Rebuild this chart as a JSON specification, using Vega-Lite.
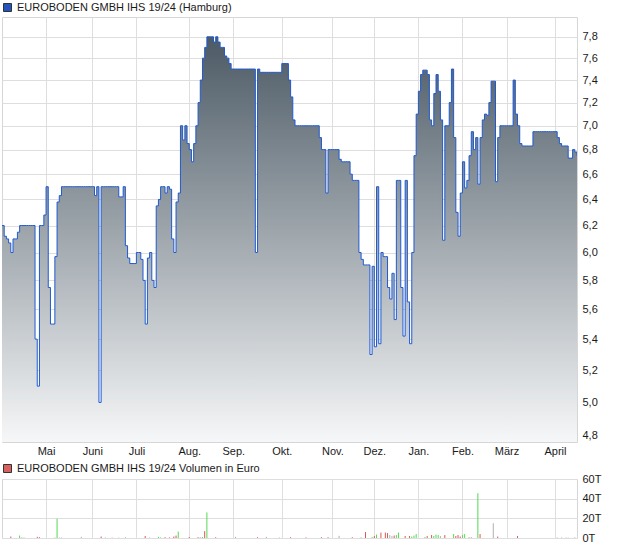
{
  "$schema": "https://vega.github.io/schema/vega-lite/v6.json",
  "background": "white",
  "padding": {"left": 1, "top": 1, "right": 0, "bottom": 0},
  "spacing": 5,
  "datasets": {
    "kurs": [
      {"t":0,"kurs":6.2},{"t":1,"kurs":6.12},{"t":2,"kurs":6.1},{"t":3,"kurs":6.07},{"t":4,"kurs":6.0},{"t":5,"kurs":6.1},{"t":6,"kurs":6.1},{"t":7,"kurs":6.15},{"t":8,"kurs":6.2},{"t":9,"kurs":6.2},
      {"t":10,"kurs":6.2},{"t":11,"kurs":6.2},{"t":12,"kurs":6.2},{"t":13,"kurs":6.2},{"t":14,"kurs":6.2},{"t":15,"kurs":5.4},{"t":16,"kurs":5.1},{"t":17,"kurs":6.2},{"t":18,"kurs":6.2},{"t":19,"kurs":6.28},
      {"t":20,"kurs":6.5},{"t":21,"kurs":5.75},{"t":22,"kurs":5.5},{"t":23,"kurs":5.5},{"t":24,"kurs":5.97},{"t":25,"kurs":6.38},{"t":26,"kurs":6.43},{"t":27,"kurs":6.5},{"t":28,"kurs":6.5},{"t":29,"kurs":6.5},
      {"t":30,"kurs":6.5},{"t":31,"kurs":6.5},{"t":32,"kurs":6.5},{"t":33,"kurs":6.5},{"t":34,"kurs":6.5},{"t":35,"kurs":6.5},{"t":36,"kurs":6.5},{"t":37,"kurs":6.5},{"t":38,"kurs":6.5},{"t":39,"kurs":6.5},
      {"t":40,"kurs":6.5},{"t":41,"kurs":6.5},{"t":42,"kurs":6.43},{"t":43,"kurs":6.5},{"t":44,"kurs":5.0},{"t":45,"kurs":6.5},{"t":46,"kurs":6.5},{"t":47,"kurs":6.5},{"t":48,"kurs":6.5},{"t":49,"kurs":6.5},
      {"t":50,"kurs":6.5},{"t":51,"kurs":6.5},{"t":52,"kurs":6.5},{"t":53,"kurs":6.42},{"t":54,"kurs":6.42},{"t":55,"kurs":6.5},{"t":56,"kurs":6.05},{"t":57,"kurs":5.96},{"t":58,"kurs":5.92},{"t":59,"kurs":5.92},
      {"t":60,"kurs":5.92},{"t":61,"kurs":6.0},{"t":62,"kurs":6.0},{"t":63,"kurs":5.95},{"t":64,"kurs":5.8},{"t":65,"kurs":5.5},{"t":66,"kurs":5.96},{"t":67,"kurs":6.0},{"t":68,"kurs":5.8},{"t":69,"kurs":5.75},
      {"t":70,"kurs":6.35},{"t":71,"kurs":6.4},{"t":72,"kurs":6.5},{"t":73,"kurs":6.5},{"t":74,"kurs":6.45},{"t":75,"kurs":6.5},{"t":76,"kurs":6.48},{"t":77,"kurs":6.1},{"t":78,"kurs":6.0},{"t":79,"kurs":6.38},
      {"t":80,"kurs":6.45},{"t":81,"kurs":7.0},{"t":82,"kurs":6.88},{"t":83,"kurs":7.0},{"t":84,"kurs":6.85},{"t":85,"kurs":6.8},{"t":86,"kurs":6.7},{"t":87,"kurs":6.85},{"t":88,"kurs":7.0},{"t":89,"kurs":7.2},
      {"t":90,"kurs":7.4},{"t":91,"kurs":7.6},{"t":92,"kurs":7.7},{"t":93,"kurs":7.8},{"t":94,"kurs":7.8},{"t":95,"kurs":7.8},{"t":96,"kurs":7.75},{"t":97,"kurs":7.8},{"t":98,"kurs":7.75},{"t":99,"kurs":7.7},
      {"t":100,"kurs":7.7},{"t":101,"kurs":7.62},{"t":102,"kurs":7.6},{"t":103,"kurs":7.55},{"t":104,"kurs":7.5},{"t":105,"kurs":7.5},{"t":106,"kurs":7.5},{"t":107,"kurs":7.5},{"t":108,"kurs":7.5},{"t":109,"kurs":7.5},
      {"t":110,"kurs":7.5},{"t":111,"kurs":7.5},{"t":112,"kurs":7.5},{"t":113,"kurs":7.5},{"t":114,"kurs":7.5},{"t":115,"kurs":6.0},{"t":116,"kurs":7.5},{"t":117,"kurs":7.47},{"t":118,"kurs":7.47},{"t":119,"kurs":7.47},
      {"t":120,"kurs":7.47},{"t":121,"kurs":7.47},{"t":122,"kurs":7.47},{"t":123,"kurs":7.47},{"t":124,"kurs":7.47},{"t":125,"kurs":7.47},{"t":126,"kurs":7.47},{"t":127,"kurs":7.55},{"t":128,"kurs":7.55},{"t":129,"kurs":7.55},
      {"t":130,"kurs":7.4},{"t":131,"kurs":7.25},{"t":132,"kurs":7.05},{"t":133,"kurs":7.0},{"t":134,"kurs":7.0},{"t":135,"kurs":7.0},{"t":136,"kurs":7.0},{"t":137,"kurs":7.0},{"t":138,"kurs":7.0},{"t":139,"kurs":7.0},
      {"t":140,"kurs":7.0},{"t":141,"kurs":7.0},{"t":142,"kurs":7.0},{"t":143,"kurs":7.0},{"t":144,"kurs":6.9},{"t":145,"kurs":6.8},{"t":146,"kurs":6.8},{"t":147,"kurs":6.45},{"t":148,"kurs":6.8},{"t":149,"kurs":6.8},
      {"t":150,"kurs":6.8},{"t":151,"kurs":6.8},{"t":152,"kurs":6.8},{"t":153,"kurs":6.72},{"t":154,"kurs":6.7},{"t":155,"kurs":6.7},{"t":156,"kurs":6.7},{"t":157,"kurs":6.7},{"t":158,"kurs":6.6},{"t":159,"kurs":6.55},
      {"t":160,"kurs":6.55},{"t":161,"kurs":6.55},{"t":162,"kurs":6.0},{"t":163,"kurs":5.95},{"t":164,"kurs":5.91},{"t":165,"kurs":5.91},{"t":166,"kurs":5.91},{"t":167,"kurs":5.3},{"t":168,"kurs":5.9},{"t":169,"kurs":5.35},
      {"t":170,"kurs":6.5},{"t":171,"kurs":5.37},{"t":172,"kurs":6.0},{"t":173,"kurs":5.97},{"t":174,"kurs":5.97},{"t":175,"kurs":5.75},{"t":176,"kurs":5.67},{"t":177,"kurs":5.85},{"t":178,"kurs":5.53},{"t":179,"kurs":6.55},
      {"t":180,"kurs":6.55},{"t":181,"kurs":5.75},{"t":182,"kurs":5.42},{"t":183,"kurs":6.55},{"t":184,"kurs":5.65},{"t":185,"kurs":5.37},{"t":186,"kurs":6.0},{"t":187,"kurs":6.75},{"t":188,"kurs":7.1},{"t":189,"kurs":7.3},
      {"t":190,"kurs":7.45},{"t":191,"kurs":7.49},{"t":192,"kurs":7.49},{"t":193,"kurs":7.45},{"t":194,"kurs":7.05},{"t":195,"kurs":7.0},{"t":196,"kurs":7.28},{"t":197,"kurs":7.45},{"t":198,"kurs":7.3},{"t":199,"kurs":7.05},
      {"t":200,"kurs":6.09},{"t":201,"kurs":7.0},{"t":202,"kurs":7.0},{"t":203,"kurs":7.2},{"t":204,"kurs":7.5},{"t":205,"kurs":6.9},{"t":206,"kurs":6.3},{"t":207,"kurs":6.12},{"t":208,"kurs":6.45},{"t":209,"kurs":6.7},
      {"t":210,"kurs":6.49},{"t":211,"kurs":6.55},{"t":212,"kurs":6.75},{"t":213,"kurs":6.95},{"t":214,"kurs":6.8},{"t":215,"kurs":6.9},{"t":216,"kurs":6.52},{"t":217,"kurs":6.9},{"t":218,"kurs":7.05},{"t":219,"kurs":7.1},
      {"t":220,"kurs":7.09},{"t":221,"kurs":7.2},{"t":222,"kurs":7.39},{"t":223,"kurs":7.39},{"t":224,"kurs":6.54},{"t":225,"kurs":6.9},{"t":226,"kurs":7.0},{"t":227,"kurs":7.0},{"t":228,"kurs":7.0},{"t":229,"kurs":7.0},
      {"t":230,"kurs":7.0},{"t":231,"kurs":7.0},{"t":232,"kurs":7.4},{"t":233,"kurs":7.1},{"t":234,"kurs":7.0},{"t":235,"kurs":6.85},{"t":236,"kurs":6.83},{"t":237,"kurs":6.83},{"t":238,"kurs":6.83},{"t":239,"kurs":6.83},
      {"t":240,"kurs":6.83},{"t":241,"kurs":6.95},{"t":242,"kurs":6.95},{"t":243,"kurs":6.95},{"t":244,"kurs":6.95},{"t":245,"kurs":6.95},{"t":246,"kurs":6.95},{"t":247,"kurs":6.95},{"t":248,"kurs":6.95},{"t":249,"kurs":6.95},
      {"t":250,"kurs":6.95},{"t":251,"kurs":6.95},{"t":252,"kurs":6.9},{"t":253,"kurs":6.85},{"t":254,"kurs":6.83},{"t":255,"kurs":6.83},{"t":256,"kurs":6.83},{"t":257,"kurs":6.73},{"t":258,"kurs":6.73},{"t":259,"kurs":6.8},
      {"t":260,"kurs":6.78},{"t":261,"kurs":6.75}
    ],
    "volumen": [
      {"t":4,"vol":1500,"r":"down"},{"t":8,"vol":2500,"r":"up"},{"t":9,"vol":800,"r":"flat"},{"t":10,"vol":600,"r":"flat"},{"t":16,"vol":1200,"r":"down"},{"t":17,"vol":800,"r":"down"},
      {"t":24,"vol":500,"r":"flat"},{"t":25,"vol":19500,"r":"up"},{"t":26,"vol":500,"r":"flat"},{"t":27,"vol":500,"r":"flat"},{"t":36,"vol":1200,"r":"flat"},{"t":45,"vol":1500,"r":"down"},
      {"t":47,"vol":500,"r":"flat"},{"t":50,"vol":500,"r":"flat"},{"t":53,"vol":400,"r":"flat"},{"t":56,"vol":700,"r":"up"},{"t":65,"vol":2000,"r":"down"},{"t":67,"vol":500,"r":"flat"},
      {"t":71,"vol":1200,"r":"up"},{"t":72,"vol":600,"r":"up"},{"t":74,"vol":800,"r":"down"},{"t":76,"vol":600,"r":"down"},{"t":78,"vol":1500,"r":"down"},{"t":79,"vol":2500,"r":"down"},
      {"t":80,"vol":6500,"r":"up"},{"t":85,"vol":1000,"r":"down"},{"t":89,"vol":800,"r":"down"},{"t":90,"vol":800,"r":"flat"},{"t":91,"vol":1000,"r":"up"},{"t":92,"vol":7000,"r":"down"},
      {"t":93,"vol":26000,"r":"up"},{"t":97,"vol":800,"r":"down"},{"t":106,"vol":1200,"r":"flat"},{"t":116,"vol":800,"r":"down"},{"t":120,"vol":1200,"r":"flat"},{"t":126,"vol":500,"r":"flat"},
      {"t":131,"vol":800,"r":"down"},{"t":138,"vol":600,"r":"down"},{"t":145,"vol":800,"r":"down"},{"t":148,"vol":800,"r":"down"},{"t":153,"vol":2200,"r":"flat"},{"t":159,"vol":800,"r":"down"},
      {"t":163,"vol":800,"r":"flat"},{"t":165,"vol":6000,"r":"down"},{"t":168,"vol":1000,"r":"up"},{"t":169,"vol":2000,"r":"down"},{"t":170,"vol":3500,"r":"up"},{"t":172,"vol":5500,"r":"down"},
      {"t":174,"vol":5500,"r":"down"},{"t":175,"vol":5000,"r":"down"},{"t":176,"vol":3000,"r":"flat"},{"t":177,"vol":2000,"r":"flat"},{"t":178,"vol":2500,"r":"down"},{"t":179,"vol":3000,"r":"up"},
      {"t":180,"vol":5500,"r":"up"},{"t":183,"vol":2000,"r":"down"},{"t":185,"vol":2000,"r":"down"},{"t":186,"vol":1500,"r":"up"},{"t":187,"vol":2500,"r":"up"},{"t":188,"vol":4000,"r":"up"},
      {"t":192,"vol":1000,"r":"up"},{"t":193,"vol":2000,"r":"down"},{"t":195,"vol":3000,"r":"down"},{"t":196,"vol":2000,"r":"up"},{"t":197,"vol":3500,"r":"up"},{"t":198,"vol":3000,"r":"up"},
      {"t":199,"vol":2000,"r":"flat"},{"t":201,"vol":3000,"r":"down"},{"t":205,"vol":4000,"r":"up"},{"t":206,"vol":2000,"r":"down"},{"t":207,"vol":3000,"r":"down"},{"t":208,"vol":1500,"r":"down"},
      {"t":209,"vol":3000,"r":"up"},{"t":210,"vol":4000,"r":"up"},{"t":212,"vol":1000,"r":"flat"},{"t":213,"vol":1000,"r":"flat"},{"t":216,"vol":45600,"r":"up"},{"t":217,"vol":4000,"r":"down"},
      {"t":223,"vol":15000,"r":"flat"},{"t":225,"vol":1500,"r":"down"},{"t":234,"vol":2000,"r":"down"},{"t":252,"vol":500,"r":"flat"},{"t":254,"vol":500,"r":"flat"},{"t":256,"vol":500,"r":"flat"},
      {"t":257,"vol":400,"r":"flat"},{"t":260,"vol":600,"r":"up"}
    ]
  },
  "config": {
    "view": {"stroke": "#d6d6d6", "strokeWidth": 1},
    "font": "Liberation Sans",
    "axis": {"domain": false, "ticks": false, "gridColor": "#dedede", "gridWidth": 1, "labelFont": "Liberation Sans", "labelFontSize": 11, "labelColor": "#1a1a1a", "labelOverlap": false, "title": null},
    "legend": {"labelFont": "Liberation Sans", "labelFontSize": 11, "labelColor": "#1a1a1a", "labelLimit": 0, "orient": "top", "offset": 0, "padding": 0, "symbolType": "square", "symbolSize": 64, "symbolStrokeColor": "#333333", "symbolStrokeWidth": 1, "symbolOpacity": 1, "labelOffset": 4, "title": null}
  },
  "resolve": {"scale": {"color": "independent"}, "legend": {"color": "independent"}},
  "vconcat": [
    {
      "width": 575,
      "height": 425,
      "data": {"name": "kurs"},
      "encoding": {
        "x": {"field": "t", "type": "quantitative", "scale": {"domain": [0, 261], "nice": false, "zero": false},
          "axis": {"values": [20, 41, 61, 85, 105, 127, 150, 169, 189, 209, 229, 251], "labelExpr": "['Mai','Juni','Juli','Aug.','Sep.','Okt.','Nov.','Dez.','Jan.','Feb.','März','April'][indexof([20,41,61,85,105,127,150,169,189,209,229,251], datum.value)]", "grid": true, "labelPadding": 3, "labelFlush": false}}
      },
      "layer": [
        {
          "mark": {"type": "area", "interpolate": "step-after", "clip": true,
            "color": {"gradient": "linear", "x1": 0, "y1": 0, "x2": 0, "y2": 1, "stops": [{"offset": 0, "color": "#4c5a65"}, {"offset": 1, "color": "#f6f7f8"}]}},
          "encoding": {
            "y": {"field": "kurs", "type": "quantitative", "scale": {"type": "log", "domain": [4.765, 7.99], "nice": false, "zero": false},
              "axis": {"orient": "right", "values": [4.8, 5.0, 5.2, 5.4, 5.6, 5.8, 6.0, 6.2, 6.4, 6.6, 6.8, 7.0, 7.2, 7.4, 7.6, 7.8], "labelExpr": "replace(format(datum.value, '.1f'), '.', ',')", "grid": true, "labelPadding": 5}},
            "y2": {"datum": 4.765}
          }
        },
        {
          "mark": {"type": "line", "interpolate": "step-after", "color": "#1f5ad0", "strokeWidth": 1, "clip": true},
          "encoding": {"y": {"field": "kurs", "type": "quantitative"}}
        },
        {
          "transform": [{"filter": "datum.t == 150"}],
          "mark": {"type": "square", "opacity": 0, "size": 4},
          "encoding": {
            "y": {"field": "kurs", "type": "quantitative"},
            "color": {"datum": "EUROBODEN GMBH IHS 19/24 (Hamburg)", "scale": {"range": ["#2353bd"]}, "legend": {"offset": 3}}
          }
        }
      ]
    },
    {
      "width": 575,
      "height": 59,
      "data": {"name": "volumen"},
      "encoding": {
        "x": {"field": "t", "type": "quantitative", "scale": {"domain": [0, 261], "nice": false, "zero": false},
          "axis": {"values": [20, 41, 61, 85, 105, 127, 150, 169, 189, 209, 229, 251], "labels": false, "grid": true}},
        "y": {"field": "vol", "type": "quantitative", "scale": {"domain": [0, 60000], "nice": false, "zero": true},
          "axis": {"orient": "right", "values": [0, 20000, 40000, 60000], "tickCount": 4, "labelExpr": "format(datum.value / 1000, 'd') + 'T'", "grid": true, "labelPadding": 5, "labelOverlap": false, "labelFlush": false}}
      },
      "layer": [
        {
          "mark": {"type": "rule", "strokeWidth": 1},
          "encoding": {
            "y2": {"datum": 0},
            "stroke": {"field": "r", "type": "nominal", "scale": {"domain": ["up", "down", "flat"], "range": ["#55d855", "#dd5555", "#b0b0b0"]}, "legend": null}
          }
        },
        {
          "transform": [{"filter": "datum.t == 93"}],
          "mark": {"type": "square", "opacity": 0, "size": 4},
          "encoding": {
            "color": {"datum": "EUROBODEN GMBH IHS 19/24 Volumen in Euro", "scale": {"range": ["#d9605f"]}, "legend": {"offset": 4}}
          }
        }
      ]
    }
  ]
}
